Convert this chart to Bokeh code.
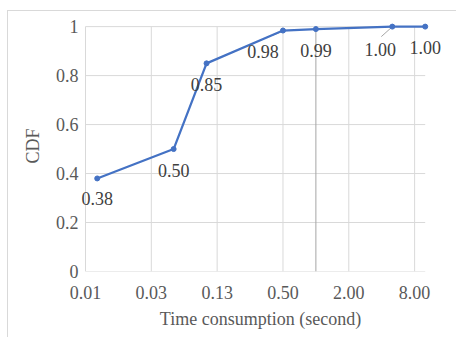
import math
from bokeh.plotting import figure
from bokeh.models import (Range1d, FixedTicker, CustomJSTickFormatter, LabelSet,
                          ColumnDataSource)
from bokeh.embed import file_html
from bokeh.resources import INLINE

# ---- data ----
time_s = [0.01, 0.05, 0.1, 0.5, 1, 5, 10]
cdf = [0.38, 0.50, 0.85, 0.984, 0.99, 1.00, 1.00]
x_ticks = [2**-7, 2**-5, 2**-3, 2**-1, 2**1, 2**3]
x_tick_labels = ["0.01", "0.03", "0.13", "0.50", "2.00", "8.00"]
y_ticks = [0, 0.2, 0.4, 0.6, 0.8, 1.0]
y_tick_labels = ["0", "0.2", "0.4", "0.6", "0.8", "1"]
x_axis_min, x_axis_max = 2**-7, 10   # plot-area bounds of the log axis
y_axis_cross = 1                      # value axis crosses the log axis at 1

# ---- label offsets (screen px, style) ----
label_dx = [0, 0, 0, -20, 0, -12, 0]
label_dy = [20, 21, 21, 21, 21, 23, 21]
leader_idx = [3, 5]            # labels with a leader line
leader_px = [(-11, 5), (-11, 10)]

FONT = "Liberation Serif"
TXT = "#595959"
GRID = "#d9d9d9"
BLUE = "#4472C4"

FW, FH = 364, 251
X0, X1 = 0.006743, 14.39
Y0, Y1 = 0, 1.025

p = figure(x_axis_type="log",
           x_range=Range1d(X0, X1), y_range=Range1d(Y0, Y1),
           frame_width=FW, frame_height=FH,
           min_border_left=70, min_border_right=14,
           min_border_top=9, min_border_bottom=66,
           output_backend="svg", toolbar_location=None)
p.outline_line_color = None
p.background_fill_color = "white"
p.border_fill_color = "white"
p.styles = {"margin-left": "7px", "margin-top": "10px",
            "border-left": "1px solid #d9d9d9", "border-top": "1px solid #d9d9d9"}

# axes
p.xaxis.ticker = FixedTicker(ticks=x_ticks, minor_ticks=[])
p.xaxis.formatter = CustomJSTickFormatter(args=dict(tk=x_ticks, lbl=x_tick_labels), code="""
let best = 0, d = Infinity;
for (let i = 0; i < tk.length; i++) {
  const e = Math.abs(Math.log(tick) - Math.log(tk[i]));
  if (e < d) { d = e; best = i; }
}
return lbl[best];
""")
p.yaxis.ticker = FixedTicker(ticks=y_ticks, minor_ticks=[])
p.yaxis.formatter = CustomJSTickFormatter(args=dict(tk=y_ticks, lbl=y_tick_labels), code="""
let best = 0, d = Infinity;
for (let i = 0; i < tk.length; i++) {
  const e = Math.abs(tick - tk[i]);
  if (e < d) { d = e; best = i; }
}
return lbl[best];
""")
p.axis.axis_line_color = None
p.axis.major_tick_line_color = None
p.axis.minor_tick_line_color = None
p.axis.major_tick_out = 0
p.axis.major_tick_in = 0
p.axis.minor_tick_out = 0
p.axis.minor_tick_in = 0
p.axis.major_label_text_font = FONT
p.axis.major_label_text_font_size = "18px"
p.axis.major_label_text_color = TXT
p.axis.axis_label_text_font = FONT
p.axis.axis_label_text_font_size = "18px"
p.axis.axis_label_text_font_style = "normal"
p.axis.axis_label_text_color = TXT
p.xaxis.axis_label = "Time consumption (second)"
p.yaxis.axis_label = "CDF"
p.xaxis.major_label_standoff = 14
p.yaxis.major_label_standoff = 0
p.xaxis.axis_label_standoff = 7
p.yaxis.axis_label_standoff = 10

# grids (drawn over the plot-area bounds only)
p.xgrid.grid_line_color = None
p.ygrid.grid_line_color = None
n_x, n_y = len(x_ticks), len(y_ticks)
p.segment(x0=[x_axis_min] * n_y, y0=y_ticks, x1=[x_axis_max] * n_y, y1=y_ticks,
          line_color=GRID, line_width=1)
p.segment(x0=x_ticks, y0=[y_ticks[0]] * n_x, x1=x_ticks, y1=[y_ticks[-1]] * n_x,
          line_color=GRID, line_width=1)
p.segment(x0=[y_axis_cross], y0=[y_ticks[0]], x1=[y_axis_cross], y1=[y_ticks[-1]],
          line_color="#a6a6a6", line_width=1)

# leader lines (from data point to displaced label)
px_per_log2 = FW / (math.log2(X1) - math.log2(X0))
px_per_y = FH / (Y1 - Y0)
lx0, ly0, lx1, ly1 = [], [], [], []
for i, (dx, dy) in zip(leader_idx, leader_px):
    lx0.append(time_s[i] * 2 ** (-1 / px_per_log2))
    ly0.append(cdf[i] - 1 / px_per_y)
    lx1.append(time_s[i] * 2 ** (dx / px_per_log2))
    ly1.append(cdf[i] - dy / px_per_y)
p.segment(x0=lx0, y0=ly0, x1=lx1, y1=ly1, line_color="#a6a6a6", line_width=1)

# data
p.line(time_s, cdf, line_color=BLUE, line_width=2.25)
p.scatter(time_s, cdf, size=5, color=BLUE)

src = ColumnDataSource(dict(x=time_s, y=cdf, text=[f"{v:.2f}" for v in cdf],
                            dx=label_dx, dy=[-d for d in label_dy]))
p.add_layout(LabelSet(x="x", y="y", text="text", x_offset="dx", y_offset="dy", source=src,
                      text_align="center", text_baseline="middle",
                      text_font=FONT, text_font_size="18px", text_color="#404040"))

open("out.html", "w").write(file_html(p, INLINE))
